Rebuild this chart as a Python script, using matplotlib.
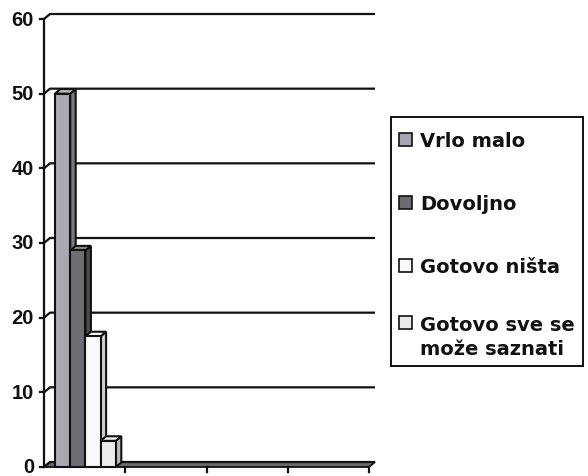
import matplotlib
matplotlib.use("Agg")
import matplotlib.pyplot as plt
from matplotlib.patches import Polygon, Rectangle

# ---- data ----
series = ["Vrlo malo", "Dovoljno", "Gotovo ništa", "Gotovo sve se\nmože saznati"]
values = [50, 29, 17.5, 3.5]
front_colors = ["#a9a9b0", "#6f6f73", "#f9f9f9", "#ececec"]
side_colors = ["#78787e", "#4c4c4f", "#cfcfcf", "#bcbcbc"]
top_colors = ["#bcbcc2", "#8a8a8e", "#ffffff", "#f4f4f4"]
legend_colors = ["#a6a6ae", "#6c6c70", "#f8f8f8", "#e8e8e8"]
yticks = [0, 10, 20, 30, 40, 50, 60]
n_categories = 4

W, H = 588, 477
fig = plt.figure(figsize=(W / 100, H / 100), dpi=100)
x0px, x1px = 44, 369
ybot, ytop = 468, 20
ax = fig.add_axes([x0px / W, 1 - ybot / H, (x1px - x0px) / W, (ybot - ytop) / H])
ax.set_xlim(0, n_categories)
ax.set_ylim(0, 60)
ax.axis("off")

pxx = (x1px - x0px) / n_categories
pxy = (ybot - ytop) / 60.0
dx, dy = 6 / pxx, 5 / pxy          # wall depth
bdx, bdy = 5.5 / pxx, 4.6 / pxy    # bar depth
lc = "#111111"
LW = 1.6

# floor
ax.add_patch(Polygon([(0, 0), (n_categories, 0), (n_categories + dx, dy), (dx, dy)],
                     closed=True, fc="#6a6a6a", ec=lc, lw=1.3, clip_on=False, zorder=1))

# gridlines on back wall + ticks
for y in yticks:
    ax.plot([0, dx, n_categories + dx], [y + 0, y + dy, y + dy], color=lc, lw=LW,
            clip_on=False, zorder=2, solid_capstyle="butt")
    ax.plot([-4 / pxx, 0], [y, y], color=lc, lw=LW, clip_on=False, zorder=2)
    ax.text(-10 / pxx, y, str(y), ha="right", va="center", fontsize=14.5,
            fontweight="bold", family="Liberation Sans", color="#111111")
ax.plot([0, 0], [0, 60], color=lc, lw=LW, clip_on=False, zorder=2)
for i in range(1, n_categories + 1):
    ax.plot([i, i], [0, -5 / pxy], color=lc, lw=LW, clip_on=False, zorder=2)

# bars (first category)
bw = 15.2 / pxx
left0 = 11 / pxx
for i, v in enumerate(values):
    l = left0 + i * bw
    r = l + bw
    z = 4 + i
    ax.add_patch(Polygon([(r, 0), (r + bdx, bdy), (r + bdx, v + bdy), (r, v)], closed=True,
                         fc=side_colors[i], ec=lc, lw=1.5, zorder=z, clip_on=False))
    ax.add_patch(Polygon([(l, v), (r, v), (r + bdx, v + bdy), (l + bdx, v + bdy)], closed=True,
                         fc=top_colors[i], ec=lc, lw=1.5, zorder=z, clip_on=False))
    ax.bar(l, v, width=bw, align="edge", color=front_colors[i], edgecolor=lc, lw=1.5,
           zorder=z + 0.5, clip_on=False)

# legend (manual, figure pixels)
def fx(px):
    return px / W

def fy(py):
    return 1 - py / H

fig.patches.append(Rectangle((fx(391), fy(367)), 192 / W, 249 / H, transform=fig.transFigure,
                             fc="white", ec=lc, lw=1.4))
centers = [140, 203.5, 266.5, 323.5]
for name, col, cy in zip(series, legend_colors, centers):
    s = 13
    fig.patches.append(Rectangle((fx(399), fy(cy + s / 2)), s / W, s / H,
                                 transform=fig.transFigure, fc=col, ec=lc, lw=1.2))
    n_lines = name.count("\n")
    fig.text(fx(420), fy(cy + 7 + 25 * n_lines), name, ha="left", va="baseline", fontsize=14,
             fontweight="bold", family="DejaVu Sans", color="#111111", linespacing=1.38)

fig.savefig("out.png", dpi=100)
